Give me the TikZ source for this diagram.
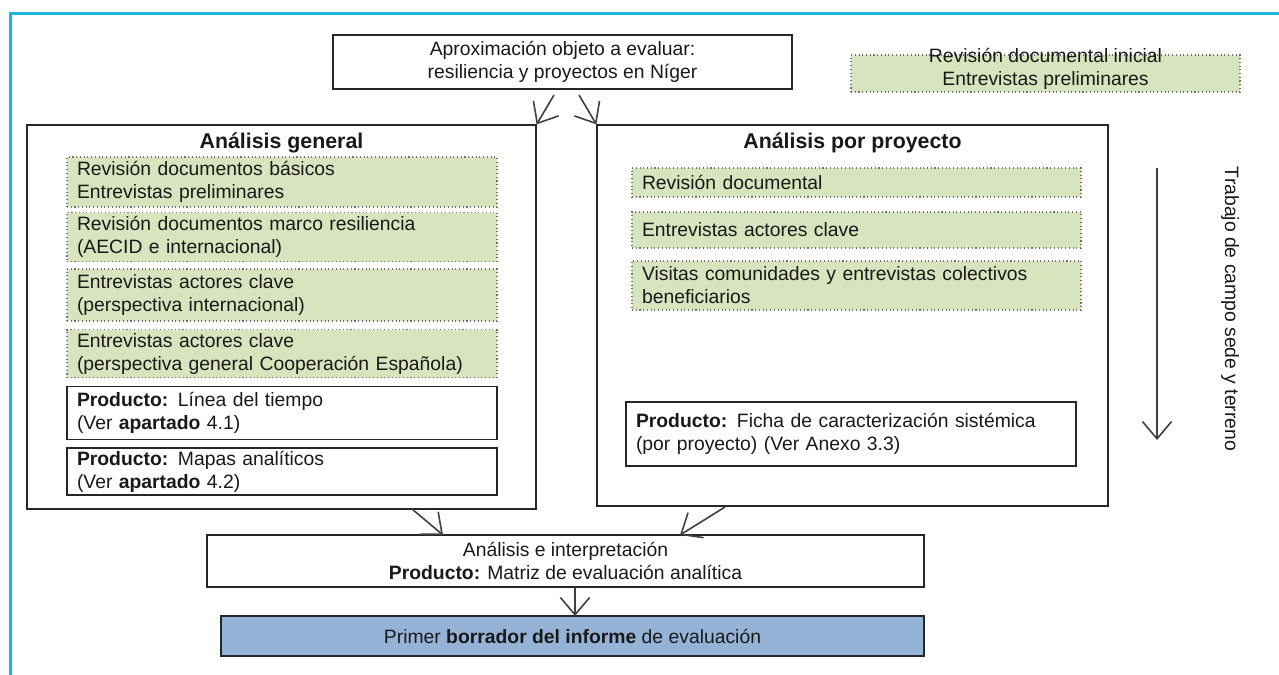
\documentclass[tikz,border=0pt]{standalone}
\usepackage{fontspec}
\setmainfont{Liberation Sans}
\usetikzlibrary{arrows.meta}

\definecolor{marco}{HTML}{19B4DF}
\definecolor{verde}{HTML}{D7E4BD}
\definecolor{azul}{HTML}{95B3D7}
\definecolor{flecha}{HTML}{404040}

\tikzset{
  every node/.style={font=\fontsize{14.5}{17.25}\selectfont, text=black!90},
  caja/.style={draw=black!85, line width=0.9pt, fill=white, inner sep=0pt},
  verdebox/.style={draw=black!55, dotted, line width=0.8pt, fill=verde, align=left,
    inner xsep=7.5pt, inner ysep=1pt},
  prodbox/.style={draw=black!85, line width=0.9pt, fill=white, align=left,
    inner xsep=7.5pt, inner ysep=1pt},
  titulo/.style={font=\fontsize{16}{19}\selectfont\bfseries},
  flechita/.style={draw=flecha, line width=1.2pt, -{Straight Barb[length=13pt,width=22pt]}}
}

\begin{document}
\begin{tikzpicture}[x=0.75pt, y=-0.75pt]
        \useasboundingbox (0,0) rectangle (1279,675);

        % marco
        \draw[marco, line width=2.25pt] (1279,13) -- (10,13) -- (10,675);

        % arriba
        \node[caja, minimum width=344.25pt, minimum height=40.5pt, align=center] (aprox) at (562.5,62)
          {Aproximación objeto a evaluar:\\resiliencia y proyectos en Níger};
        \node[verdebox, minimum width=291.75pt, minimum height=27.75pt] (ini) at (1045.5,73.5) {};
        \node[align=center] (initxt) at (1045.5,69) {Revisión documental inicial\\Entrevistas preliminares};

        % analisis general
        \node[caja, minimum width=381.75pt, minimum height=288pt] (gen) at (281.5,317) {};
        \node[titulo] (gentit) at (281.5,143) {Análisis general};
        \node[verdebox, text width=307.5pt, minimum height=37.5pt] (g1) at (282,182)
          {Revisión documentos básicos\\Entrevistas preliminares};
        \node[verdebox, text width=307.5pt, minimum height=36.75pt] (g2) at (282,237)
          {Revisión documentos marco resiliencia\\(AECID e internacional)};
        \node[verdebox, text width=307.5pt, minimum height=39pt] (g3) at (282,295)
          {Entrevistas actores clave\\(perspectiva internacional)};
        \node[verdebox, text width=307.5pt, minimum height=36pt] (g4) at (282,353.5)
          {Entrevistas actores clave\\(perspectiva general Cooperación Española)};
        \node[prodbox, text width=307.5pt, minimum height=39.75pt] (p1) at (282,413)
          {\textbf{Producto:} Línea del tiempo\\(Ver \textbf{apartado} 4.1)};
        \node[prodbox, text width=307.5pt, minimum height=35.25pt] (p2) at (282,471.5)
          {\textbf{Producto:} Mapas analíticos\\(Ver \textbf{apartado} 4.2)};

        % analisis por proyecto
        \node[caja, minimum width=383.25pt, minimum height=285.75pt] (pro) at (852.5,315.5) {};
        \node[titulo] (protit) at (852.5,143) {Análisis por proyecto};
        \node[verdebox, text width=321.75pt, minimum height=21.75pt] (r1) at (856.5,182.5)
          {Revisión documental};
        \node[verdebox, text width=321.75pt, minimum height=27pt] (r2) at (856.5,230)
          {Entrevistas actores clave};
        \node[verdebox, text width=321.75pt, minimum height=36.75pt] (r3) at (856.5,285.5)
          {Visitas comunidades y entrevistas colectivos\\beneficiarios};
        \node[prodbox, text width=322.5pt, minimum height=48pt] (rp) at (851,434)
          {\textbf{Producto:} Ficha de caracterización sistémica\\(por proyecto) (Ver Anexo 3.3)};

        % abajo
        \node[caja, minimum width=537.75pt, minimum height=39pt, align=center] (ana) at (565.5,561)
          {Análisis e interpretación\\\textbf{Producto:} Matriz de evaluación analítica};
        \node[caja, fill=azul, minimum width=527.25pt, minimum height=30pt] (inf) at (572.5,636)
          {Primer \textbf{borrador del informe} de evaluación};

        % trabajo de campo
        \coordinate (tc1) at (1157,168);
        \coordinate (tc2) at (1157,440);
        \draw[flechita] (tc1) -- (tc2);
        \node[rotate=-90] (campo) at (1230,309) {Trabajo de campo sede y terreno};

        % flechas
        \coordinate (s1) at (554,95);
        \coordinate (s2) at (579,95);
        \coordinate (s3) at (412,509);
        \coordinate (e3) at (443,535);
        \coordinate (s4) at (725,507);
        \coordinate (e4) at (680,535);
        \coordinate (s5) at (575,587);
        \coordinate (e5) at (575,616);
        \draw[flechita] (s1) -- (gen.north east);
        \draw[flechita] (s2) -- (pro.north west);
        \draw[flechita] (s3) -- (e3);
        \draw[flechita] (s4) -- (e4);
        \draw[flechita] (s5) -- (e5);
    \end{tikzpicture}
\end{document}
